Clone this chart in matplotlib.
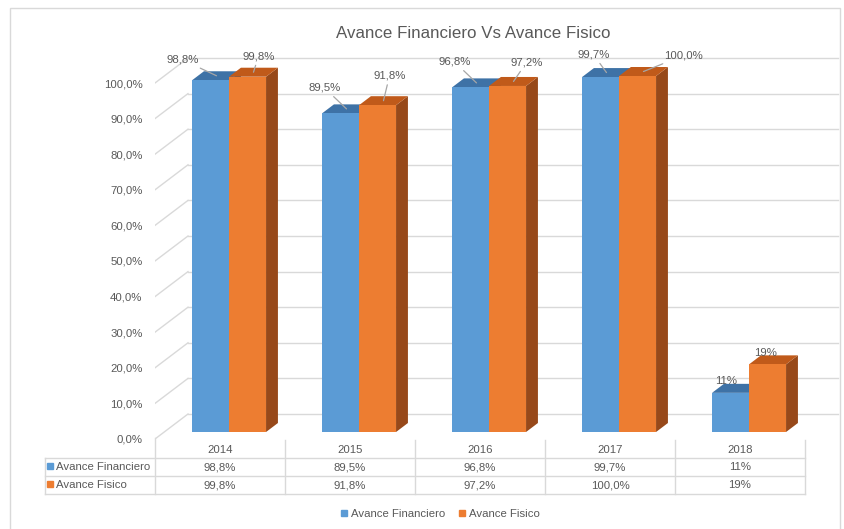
import matplotlib
matplotlib.use("Agg")
import matplotlib.pyplot as plt
from matplotlib.patches import Polygon, Rectangle
from matplotlib.lines import Line2D

plt.rcParams.update({
    'font.family': ['Liberation Sans', 'DejaVu Sans'],
    'font.size': 8.2,
    'text.color': '#595959',
})

# data
years = ['2014', '2015', '2016', '2017', '2018']
financiero = [98.8, 89.5, 96.8, 99.7, 11]
fisico = [99.8, 91.8, 97.2, 100.0, 19]
decimals = [1, 1, 1, 1, 0]
series_names = ['Avance Financiero', 'Avance Fisico']
yticks = [0, 10, 20, 30, 40, 50, 60, 70, 80, 90, 100]

# styling
front_cols = ['#5B9BD5', '#ED7D31']
top_cols = ['#3E72A6', '#C05A1A']
side_cols = ['#33608C', '#97491A']
grid_col = '#D9D9D9'
txt_col = '#595959'
FS = 8.2

# label offsets in pixels (dx, dy) from top of each bar
label_off = [
    [(-34, 16), (-22, 21), (-22, 21), (-13, 18), (-10, 7)],
    [(5, 16), (6, 25), (13, 19), (40, 16), (-8, 7)],
]

W, H = 845, 529
fig = plt.figure(figsize=(W / 100, H / 100), dpi=100)

PXY = 3.56          # pixels per percent
COLW = 130          # pixels per category
DX, DY = 33 / COLW, 25 / PXY   # full depth offset in data units
T0, T1 = 0.28, 0.64            # bar depth range
BW = 37 / COLW

ax = fig.add_axes([155 / W, (H - 439) / H, (840 - 155) / W, (439 - 40) / H])
ax.set_xlim(-0.5, -0.5 + 685 / COLW)
ax.set_ylim(0, 399 / PXY)
for s in ax.spines.values():
    s.set_visible(False)
ax.set_xticks([])
ax.set_yticks(yticks)
ax.set_yticklabels([f"{v:.1f}".replace('.', ',') + '%' for v in yticks],
                   color=txt_col, fontsize=FS)
ax.tick_params(axis='y', length=0, pad=9)

# walls: side diagonals + back gridlines
for v in yticks:
    ax.plot([-0.5, -0.5 + DX], [v, v + DY], color=grid_col, lw=1, zorder=1)
    ax.plot([-0.5 + DX, 4.5 + DX], [v + DY, v + DY], color=grid_col, lw=1, zorder=1)

# 3d bars
base = T0 * DY
ddx, ddy = (T1 - T0) * DX, (T1 - T0) * DY
for j, vals in enumerate([financiero, fisico]):
    for i, v in enumerate(vals):
        xl = i - 0.215 + j * BW
        top = base + v
        side = Polygon([(xl + BW, base), (xl + BW + ddx, base + ddy),
                        (xl + BW + ddx, top + ddy), (xl + BW, top)],
                       closed=True, facecolor=side_cols[j], edgecolor='none', zorder=3)
        ax.add_patch(side)
        tp = Polygon([(xl, top), (xl + BW, top), (xl + BW + ddx, top + ddy),
                      (xl + ddx, top + ddy)],
                     closed=True, facecolor=top_cols[j], edgecolor='none', zorder=3)
        ax.add_patch(tp)
        ax.bar(xl, v, width=BW, bottom=base, align='edge', color=front_cols[j],
               zorder=4)
        lab = f"{v:.{decimals[i]}f}".replace('.', ',') + '%'
        ox, oy = label_off[j][i]
        arrow = None
        if abs(ox) + abs(oy) > 18:
            arrow = dict(arrowstyle='-', color='#A6A6A6', lw=0.9, shrinkA=1, shrinkB=0)
        ax.annotate(lab, xy=(xl + BW / 2 + ddx / 2, top + ddy / 2),
                    xytext=(ox, oy), textcoords='offset pixels',
                    ha='center', va='center', color=txt_col, fontsize=FS,
                    arrowprops=arrow, zorder=6)

# data table
tab = fig.add_axes([45 / W, (H - 494) / H, 760 / W, 54 / H])
tab.set_xlim(-1.346, 4.5)
tab.set_ylim(3, 0)
tab.axis('off')
for k in range(6):
    tab.plot([k - 0.5, k - 0.5], [0 if k else -0.1, 3], color=grid_col, lw=1, clip_on=False)
tab.plot([-1.346, -1.346], [1, 3], color=grid_col, lw=1, clip_on=False)
for r in [1, 2, 3]:
    tab.plot([-1.346, 4.5], [r, r], color=grid_col, lw=1, clip_on=False)
for i, y in enumerate(years):
    tab.text(i, 0.55, y, ha='center', va='center', color=txt_col, fontsize=FS)
    tab.text(i, 1.5, f"{financiero[i]:.{decimals[i]}f}".replace('.', ',') + '%',
             ha='center', va='center', color=txt_col, fontsize=FS)
    tab.text(i, 2.5, f"{fisico[i]:.{decimals[i]}f}".replace('.', ',') + '%',
             ha='center', va='center', color=txt_col, fontsize=FS)
for r, name in enumerate(series_names):
    tab.plot([-1.305], [1.42 + r], marker='s', ms=5, color=front_cols[r], clip_on=False)
    tab.text(-1.262, 1.5 + r, name, ha='left', va='center', color=txt_col, fontsize=FS)

# title
fig.text(473 / W, 1 - 33 / H, 'Avance Financiero Vs Avance Fisico', ha='center',
         va='center', fontsize=12.2, color=txt_col)

# legend
handles = [Line2D([], [], marker='s', ls='none', ms=5, color=c) for c in front_cols]
fig.legend(handles, series_names, loc='center', bbox_to_anchor=(440 / W, 1 - 514 / H),
           ncol=2, frameon=False, handlelength=0.6, handletextpad=0.3,
           columnspacing=1.2, fontsize=FS, labelcolor=txt_col)

# chart border
fig.patches.append(Rectangle((10 / W, -0.01), 830 / W, 1 - 8 / H + 0.01,
                             transform=fig.transFigure, fill=False,
                             edgecolor=grid_col, lw=1))

fig.savefig('out.png', dpi=100)
